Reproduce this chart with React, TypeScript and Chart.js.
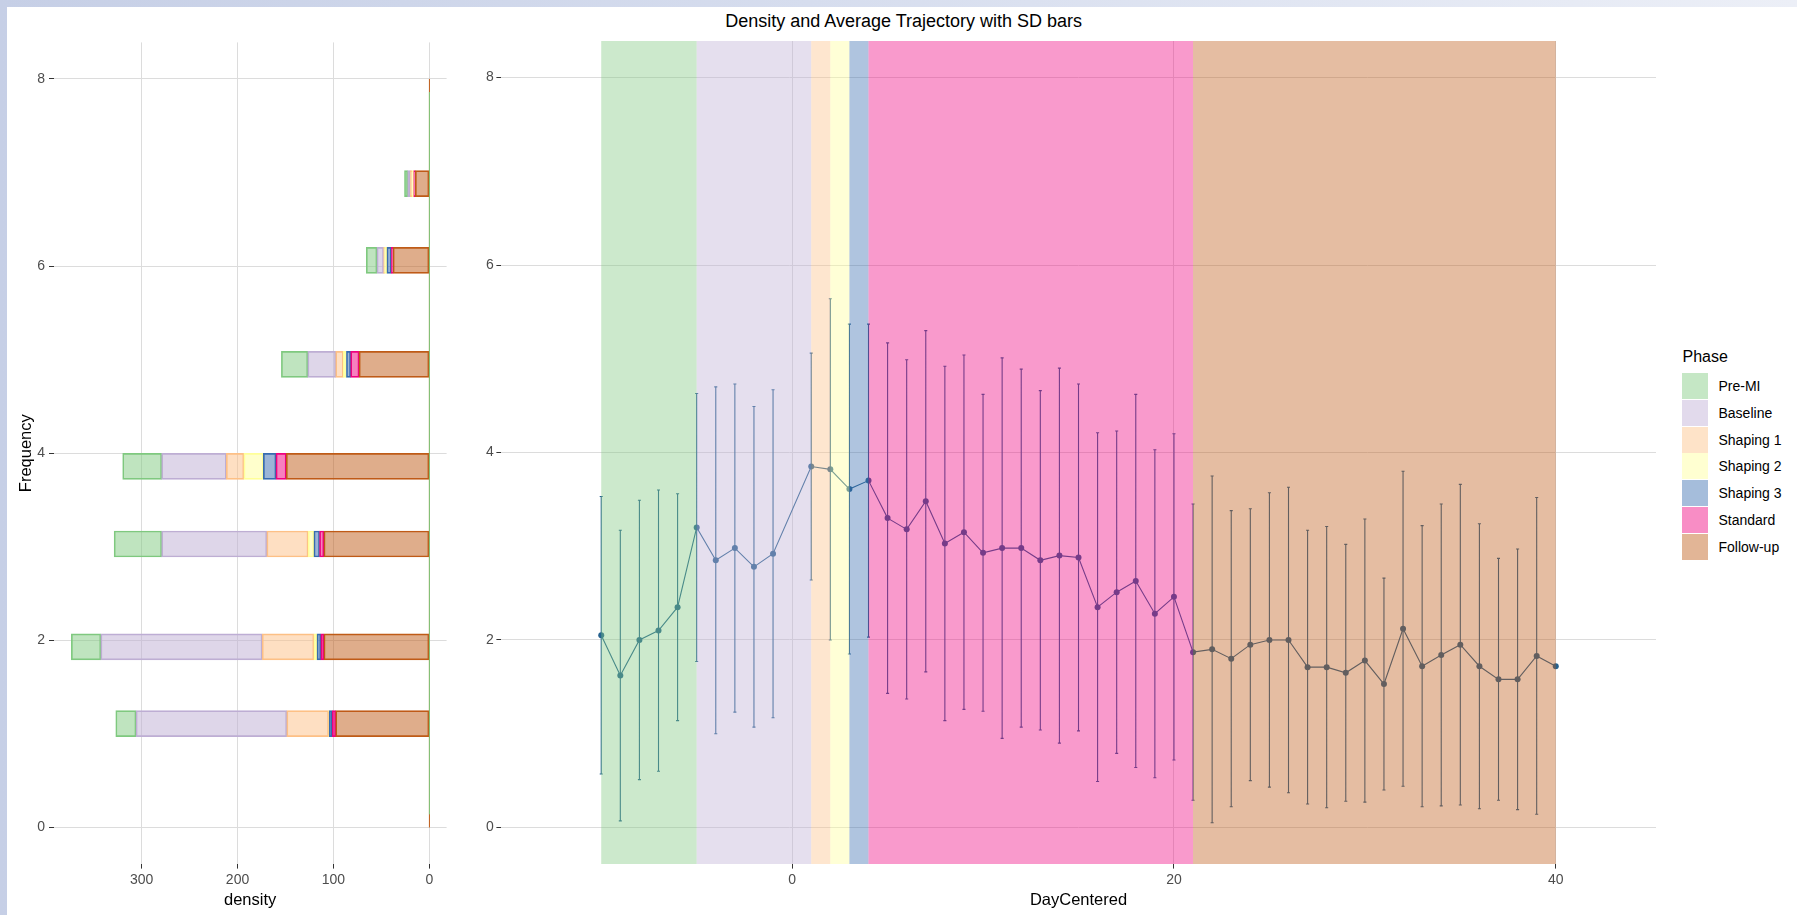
import React, { useEffect, useRef } from 'react';
import { Chart, registerables } from 'chart.js';

Chart.register(...registerables);

const FONT = '"Liberation Sans", Arial, Helvetica, sans-serif';

// ---- Phases ----
const phases = ['Pre-MI', 'Baseline', 'Shaping 1', 'Shaping 2', 'Shaping 3', 'Standard', 'Follow-up'];
const phaseColors = ['#7FC97F', '#BEAED4', '#FDC086', '#FFFF99', '#386CB0', '#F0027F', '#BF5B17'];
const phaseStart = [-10, -5, 1, 2, 3, 4, 21];
const phaseEnd = [-5, 1, 2, 3, 4, 21, 40];

// ---- Left panel: density by frequency bin (stacked by phase) ----
const freqBins = [1.11, 1.93, 3.03, 3.86, 4.95, 6.06, 6.88];
const densPreMI = [21.1, 30.7, 49.5, 40.6, 27.5, 11.1, 3.3];
const densBaseline = [157.1, 168.2, 109.6, 67.4, 29.1, 6.9, 2.7];
const densShaping1 = [43.7, 53.9, 43.1, 18.3, 8.0, 1.1, 1.7];
const densShaping2 = [0.6, 3.2, 6.0, 20.3, 3.2, 2.4, 1.9];
const densShaping3 = [3.1, 4.0, 5.9, 13.2, 4.4, 4.5, 0];
const densStandard = [3.6, 3.2, 4.5, 10.7, 8.8, 1.9, 1.7];
const densFollowUp = [97.7, 110.0, 110.0, 149.2, 73.3, 37.9, 14.7];
const zeroLineSpan = [0.14, 7.86];
const zeroLineEnds = [0, 8];

const densityTicks = [0, 100, 200, 300];
const freqTicks = [0, 2, 4, 6, 8];
const dayTicks = [0, 20, 40];

// ---- Right panel: mean trajectory with SD ----
const days = [-10, -9, -8, -7, -6, -5, -4, -3, -2, -1, 1, 2, 3, 4, 5, 6, 7, 8, 9, 10, 11, 12, 13, 14, 15, 16, 17, 18, 19, 20, 21, 22, 23, 24, 25, 26, 27, 28, 29, 30, 31, 32, 33, 34, 35, 36, 37, 38, 39, 40];
const meanFreq = [2.05, 1.62, 2.00, 2.10, 2.35, 3.20, 2.85, 2.98, 2.78, 2.92, 3.85, 3.82, 3.61, 3.70, 3.30, 3.18, 3.48, 3.03, 3.15, 2.93, 2.98, 2.98, 2.85, 2.90, 2.88, 2.35, 2.51, 2.63, 2.28, 2.46, 1.87, 1.90, 1.80, 1.95, 2.00, 2.00, 1.71, 1.71, 1.65, 1.78, 1.53, 2.12, 1.72, 1.84, 1.95, 1.72, 1.58, 1.58, 1.83, 1.72];
const sdFreq: (number | null)[] = [1.48, 1.55, 1.49, 1.50, 1.21, 1.43, 1.85, 1.75, 1.71, 1.75, 1.21, 1.82, 1.76, 1.67, 1.87, 1.81, 1.82, 1.89, 1.89, 1.69, 2.03, 1.91, 1.81, 2.00, 1.85, 1.86, 1.72, 1.99, 1.75, 1.74, 1.58, 1.85, 1.58, 1.45, 1.57, 1.63, 1.46, 1.50, 1.37, 1.51, 1.13, 1.68, 1.50, 1.61, 1.71, 1.52, 1.29, 1.39, 1.69, null];

const GRID = '#dcdcdc';
const TICK = '#333333';
const TICK_TEXT = '#4d4d4d';
const TRAJ = '#26628f';
const CAP = 0.08;

function rgba(hex: string, a: number) {
  const n = parseInt(hex.slice(1), 16);
  return `rgba(${(n >> 16) & 255},${(n >> 8) & 255},${n & 255},${a})`;
}

export default function App() {
  const leftRef = useRef<HTMLCanvasElement>(null);
  const rightRef = useRef<HTMLCanvasElement>(null);

  useEffect(() => {
    Chart.defaults.font.family = FONT;

    const densSeries = [densPreMI, densBaseline, densShaping1, densShaping2, densShaping3, densStandard, densFollowUp];
    const barSets: any[] = phases.map((p, i) => ({
      type: 'bar',
      label: p,
      data: freqBins.map((f, j) => ({ x: densSeries[i][j], y: f })),
      backgroundColor: rgba(phaseColors[i], 0.5),
      borderColor: phaseColors[i],
      borderWidth: 1,
      borderSkipped: false,
      barThickness: 26,
      order: 2,
    })).reverse();

    const lineSets: any[] = [
      {
        type: 'line', label: 'zero-green', stack: 'zg',
        data: zeroLineSpan.map((v) => ({ x: 0, y: v })),
        borderColor: phaseColors[0], borderWidth: 1, pointRadius: 0, order: 0,
      },
      {
        type: 'line', label: 'zero-orange', stack: 'zo',
        data: zeroLineEnds.map((v) => ({ x: 0, y: v })),
        borderColor: phaseColors[6], borderWidth: 1, pointRadius: 0, order: 1,
      },
    ];

    const axisTitleFont = { family: FONT, size: 16.5 };
    const tickFont = { family: FONT, size: 14 };

    const left = new Chart(leftRef.current!, {
      type: 'bar',
      data: { datasets: [...lineSets, ...barSets] },
      options: {
        indexAxis: 'y',
        animation: false,
        responsive: false,
        layout: { padding: { top: 11, right: 23.4, bottom: 0, left: 0 } },
        plugins: { legend: { display: false }, tooltip: { enabled: false }, title: { display: false } },
        scales: {
          x: {
            type: 'linear', reverse: true, min: -17.9, max: 391.7, stacked: true, offset: false,
            afterBuildTicks: (s: any) => { s.ticks = densityTicks.map((v) => ({ value: v })); },
            afterFit: (s: any) => { s.height = 51; },
            grid: { color: GRID, lineWidth: 1, tickColor: TICK, tickLength: 4.6, drawTicks: true, offset: false },
            border: { display: false },
            ticks: { color: TICK_TEXT, font: tickFont, padding: 3, maxRotation: 0, autoSkip: false },
            title: { display: true, text: 'density', color: '#000', font: axisTitleFont, padding: { top: 0, bottom: 4.4 } },
          },
          y: {
            type: 'linear', min: -0.39, max: 8.39, stacked: true, offset: false,
            afterBuildTicks: (s: any) => { s.ticks = freqTicks.map((v) => ({ value: v })); },
            afterFit: (s: any) => { s.width = 53.6; },
            grid: { color: GRID, lineWidth: 1, tickColor: TICK, tickLength: 4.6, drawTicks: true, offset: false },
            border: { display: false },
            ticks: { color: TICK_TEXT, font: tickFont, padding: 4, autoSkip: false },
            title: { display: true, text: 'Frequency', color: '#000', font: axisTitleFont, padding: { top: 16.7, bottom: 0 } },
          },
        },
      } as any,
    });

    // error bars built from means and SDs
    const errData: any[] = [];
    days.forEach((d, i) => {
      const s = sdFreq[i];
      if (s == null) return;
      const m = meanFreq[i];
      errData.push({ x: d - CAP, y: m + s }, { x: d + CAP, y: m + s }, { x: d, y: null });
      errData.push({ x: d, y: m + s }, { x: d, y: m - s }, { x: d, y: null });
      errData.push({ x: d - CAP, y: m - s }, { x: d + CAP, y: m - s }, { x: d, y: null });
    });

    const phaseBands = {
      id: 'phaseBands',
      afterDatasetsDraw(chart: any) {
        const { ctx, chartArea, scales } = chart;
        const xs = scales.x;
        ctx.save();
        phases.forEach((_, i) => {
          const x0 = xs.getPixelForValue(phaseStart[i]);
          const x1 = xs.getPixelForValue(phaseEnd[i]);
          ctx.fillStyle = rgba(phaseColors[i], 0.4);
          ctx.fillRect(x0, chartArea.top, x1 - x0, chartArea.bottom - chartArea.top);
        });
        ctx.restore();
      },
    };

    const right = new Chart(rightRef.current!, {
      type: 'line',
      data: {
        datasets: [
          {
            label: 'SD', data: errData, borderColor: TRAJ, borderWidth: 1.1,
            pointRadius: 0, spanGaps: false, tension: 0,
          },
          {
            label: 'Mean', data: days.map((d, i) => ({ x: d, y: meanFreq[i] })),
            borderColor: TRAJ, borderWidth: 1.1, backgroundColor: TRAJ,
            pointRadius: 3, pointBorderWidth: 0, pointBackgroundColor: TRAJ, tension: 0,
          },
        ],
      },
      options: {
        animation: false,
        responsive: false,
        layout: { padding: { top: 11, right: 19, bottom: 0, left: 0 } },
        plugins: { legend: { display: false }, tooltip: { enabled: false }, title: { display: false } },
        scales: {
          x: {
            type: 'linear', min: -15.25, max: 45.25,
            afterBuildTicks: (s: any) => { s.ticks = dayTicks.map((v) => ({ value: v })); },
            afterFit: (s: any) => { s.height = 51; },
            grid: { color: GRID, lineWidth: 1, tickColor: TICK, tickLength: 4.6, drawTicks: true },
            border: { display: false },
            ticks: { color: TICK_TEXT, font: tickFont, padding: 3, maxRotation: 0, autoSkip: false },
            title: { display: true, text: 'DayCentered', color: '#000', font: axisTitleFont, padding: { top: 0, bottom: 4.4 } },
          },
          y: {
            type: 'linear', min: -0.39, max: 8.39,
            afterBuildTicks: (s: any) => { s.ticks = freqTicks.map((v) => ({ value: v })); },
            afterFit: (s: any) => { s.width = 46; },
            grid: { color: GRID, lineWidth: 1, tickColor: TICK, tickLength: 4.6, drawTicks: true },
            border: { display: false },
            ticks: { color: TICK_TEXT, font: tickFont, padding: 2.5, autoSkip: false },
          },
        },
      } as any,
      plugins: [phaseBands],
    });

    return () => { left.destroy(); right.destroy(); };
  }, []);

  return (
    <div style={{ position: 'fixed', left: 0, top: 0, width: 1797, height: 915, overflow: 'hidden',
      background: 'linear-gradient(90deg, #c6cfe6 0%, #d6ddee 45%, #eceff7 100%)', fontFamily: FONT }}>
      <div style={{ position: 'absolute', left: 7, top: 7, right: 0, bottom: 0, background: '#ffffff' }} />
      <div style={{ position: 'absolute', left: 603.6, top: 12, width: 600, textAlign: 'center', fontSize: 18, lineHeight: '19px', color: '#000' }}>
        Density and Average Trajectory with SD bars
      </div>
      <canvas ref={leftRef} width={470} height={885} style={{ position: 'absolute', left: 0, top: 30, width: 470, height: 885 }} />
      <canvas ref={rightRef} width={1220} height={885} style={{ position: 'absolute', left: 455, top: 30, width: 1220, height: 885 }} />
      <div style={{ position: 'absolute', left: 1682.5, top: 347, fontSize: 16, lineHeight: '20px', color: '#000' }}>Phase</div>
      {phases.map((p, i) => (
        <React.Fragment key={p}>
          <div style={{ position: 'absolute', left: 1682, top: 372.7 + i * 26.9, width: 26, height: 26, background: rgba(phaseColors[i], 0.45) }} />
          <div style={{ position: 'absolute', left: 1718.5, top: 372.7 + i * 26.9, height: 26, lineHeight: '26px', fontSize: 14, color: '#000', whiteSpace: 'nowrap' }}>{p}</div>
        </React.Fragment>
      ))}
    </div>
  );
}
